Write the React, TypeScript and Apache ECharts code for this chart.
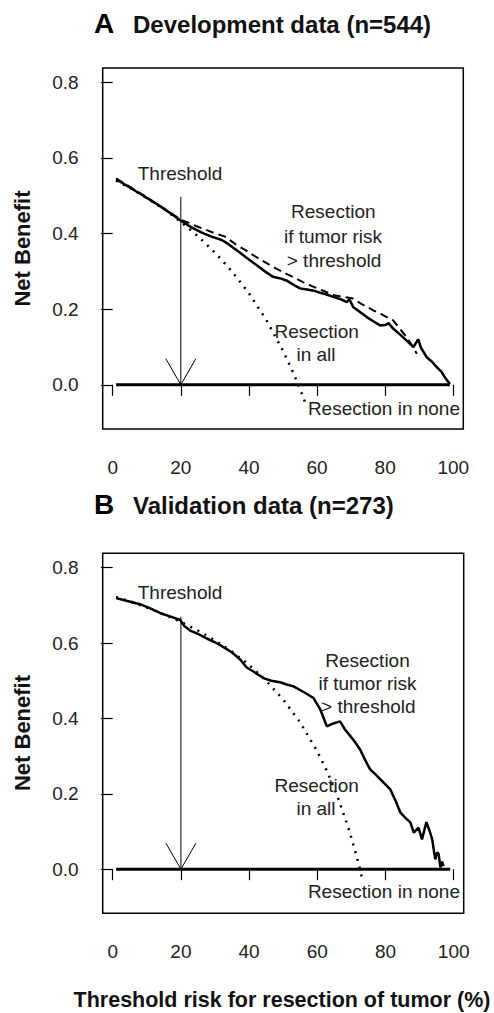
import React, { useEffect, useRef } from "react";
import * as echarts from "echarts";

// ---- tick labels / axes ----
const xTickValues = [0, 20, 40, 60, 80, 100];
const yTickValues = [0, 0.2, 0.4, 0.6, 0.8];
const thresholdValue = 20;

// ---- Panel A: Development data (n=544) ----
const devModelX = [1, 5, 9, 14, 18, 20, 23, 26, 29, 32, 34, 37, 39, 42, 45, 47, 49, 51, 53, 55, 57, 59, 61, 63, 65, 67, 68.7, 69.5, 70.6, 72.5, 74.6, 76.5, 78.5, 80, 81, 82.4, 84.5, 86.3, 88.3, 89.7, 90.5, 92.2, 93.5, 95.1, 96.5, 97.5, 99];
const devModelY = [0.544, 0.522, 0.5, 0.472, 0.447, 0.434, 0.417, 0.403, 0.392, 0.383, 0.372, 0.352, 0.338, 0.318, 0.298, 0.286, 0.282, 0.276, 0.265, 0.255, 0.252, 0.249, 0.243, 0.238, 0.232, 0.226, 0.219, 0.226, 0.206, 0.193, 0.179, 0.168, 0.157, 0.158, 0.163, 0.148, 0.132, 0.117, 0.1, 0.12, 0.098, 0.073, 0.063, 0.047, 0.035, 0.02, 0.002];

const devApparentX = [1, 10, 20, 25, 30, 33, 36, 39, 43, 47, 50, 53, 56, 59, 62, 65, 68, 70.6, 73, 76.5, 79, 82.4, 84, 86.3, 88, 89.3];
const devApparentY = [0.546, 0.496, 0.437, 0.418, 0.401, 0.392, 0.372, 0.356, 0.333, 0.312, 0.298, 0.285, 0.271, 0.259, 0.248, 0.237, 0.232, 0.228, 0.214, 0.197, 0.186, 0.17, 0.152, 0.126, 0.102, 0.082];

const devAllX = [1, 5, 10, 15, 20, 25, 30, 35, 40, 45, 50, 53, 55, 57];
const devAllY = [0.54, 0.521, 0.494, 0.465, 0.431, 0.393, 0.35, 0.3, 0.242, 0.173, 0.09, 0.032, -0.011, -0.058];

const devNoneX = [1, 99];
const devNoneY = [0, 0];
const devArrowTop = 0.497;

// ---- Panel B: Validation data (n=273) ----
const valModelX = [1, 4, 8, 11, 14, 17, 19.8, 21, 22.7, 25, 27.6, 30, 32.5, 35, 37.4, 39.3, 41.5, 44.2, 46.5, 49.1, 51, 53, 56, 58.9, 60.9, 62.8, 64.5, 66.7, 68, 69.7, 71, 72.6, 74, 75.5, 77, 78.5, 80, 81.4, 83, 84.4, 86, 87.3, 88.3, 89.7, 90.7, 92, 93, 93.7, 94.6, 95.2, 95.6, 96.1, 96.6, 97];
const valModelY = [0.719, 0.712, 0.703, 0.692, 0.679, 0.67, 0.661, 0.645, 0.633, 0.624, 0.612, 0.602, 0.589, 0.575, 0.556, 0.535, 0.523, 0.507, 0.5, 0.496, 0.49, 0.485, 0.47, 0.454, 0.423, 0.379, 0.386, 0.392, 0.372, 0.353, 0.338, 0.317, 0.29, 0.265, 0.252, 0.238, 0.225, 0.212, 0.18, 0.15, 0.135, 0.124, 0.097, 0.11, 0.079, 0.125, 0.1, 0.079, 0.026, 0.045, 0.04, 0.005, 0.02, 0.008];

const valAllX = [1, 5, 10, 15, 20, 25, 30, 35, 40, 45, 50, 55, 60, 63, 66, 69, 71, 72.5, 73];
const valAllY = [0.722, 0.711, 0.694, 0.676, 0.656, 0.633, 0.607, 0.577, 0.542, 0.5, 0.45, 0.389, 0.3125, 0.257, 0.191, 0.113, 0.052, 0.0, -0.019];

const valNoneX = [1, 99];
const valNoneY = [0, 0];
const valArrowTop = 0.67;

const zip = (xs: number[], ys: number[]) => xs.map((x, i) => [x, ys[i]]);

const FONT = "'Liberation Sans', Arial, sans-serif";

export default function App() {
  const ref = useRef<HTMLDivElement>(null);
  useEffect(() => {
    if (!ref.current) return;
    const chart = echarts.init(ref.current, null, { renderer: "svg" });

    const mkX = (gridIndex: number) => ({
      type: "value",
      gridIndex,
      min: -2.94,
      max: 102.94,
      splitLine: { show: false },
      axisLine: { show: false },
      axisTick: {
        show: true,
        length: 11,
        customValues: xTickValues,
        lineStyle: { color: "#000", width: 1.2 },
      },
      axisLabel: {
        customValues: xTickValues,
        margin: 29,
        fontSize: 19,
        fontFamily: FONT,
        color: "#222",
        formatter: (v: number) => String(v),
      },
    });
    const mkY = (gridIndex: number) => ({
      type: "value",
      gridIndex,
      min: -0.117,
      max: 0.838,
      splitLine: { show: false },
      axisLine: { show: false },
      axisTick: {
        show: true,
        length: 12,
        customValues: yTickValues,
        lineStyle: { color: "#000", width: 1.2 },
      },
      axisLabel: {
        customValues: yTickValues,
        margin: 24,
        fontSize: 19,
        fontFamily: FONT,
        color: "#222",
        formatter: (v: number) => v.toFixed(1),
      },
    });

    const line = (
      name: string,
      idx: number,
      data: number[][],
      width: number,
      type: any = "solid"
    ) => ({
      name,
      type: "line",
      xAxisIndex: idx,
      yAxisIndex: idx,
      data,
      showSymbol: false,
      symbol: "none",
      silent: true,
      lineStyle: { color: "#000", width, type, cap: "butt" },
      z: 3,
    });

    const arrowHalfW = 4.4;
    const arrowH = 0.069;
    const arrow = (idx: number, top: number) => [
      line("arrowStem" + idx, idx, [[thresholdValue, top], [thresholdValue, 0]], 1),
      line(
        "arrowHead" + idx,
        idx,
        [
          [thresholdValue - arrowHalfW, arrowH],
          [thresholdValue, 0],
          [thresholdValue + arrowHalfW, arrowH],
        ],
        1
      ),
    ];

    const txt = (text: string, x: number, y: number, opts: any = {}) => ({
      type: "text",
      x,
      y,
      rotation: opts.rotation || 0,
      style: {
        text,
        fill: opts.fill || "#222",
        font: `${opts.bold ? "bold " : ""}${opts.size || 19}px ${FONT}`,
        textAlign: opts.align || "center",
        textVerticalAlign: "middle",
      },
      z: 10,
    });

    chart.setOption({
      animation: false,
      backgroundColor: "#fff",
      grid: [
        { left: 102.7, top: 68, width: 360.6, height: 361, show: true, borderColor: "#000", borderWidth: 1.5, backgroundColor: "transparent" },
        { left: 102.7, top: 553.3, width: 361, height: 360, show: true, borderColor: "#000", borderWidth: 1.5, backgroundColor: "transparent" },
      ],
      xAxis: [mkX(0), mkX(1)],
      yAxis: [mkY(0), mkY(1)],
      series: [
        line("Resection in none A", 0, zip(devNoneX, devNoneY), 3),
        line("Resection in all A", 0, zip(devAllX, devAllY), 2.5, [2, 6]),
        line("Apparent A", 0, zip(devApparentX, devApparentY), 2, [8, 5]),
        line("Model A", 0, zip(devModelX, devModelY), 2.5),
        ...arrow(0, devArrowTop),
        line("Resection in none B", 1, zip(valNoneX, valNoneY), 3),
        line("Resection in all B", 1, zip(valAllX, valAllY), 2.5, [2, 6]),
        line("Model B", 1, zip(valModelX, valModelY), 2.5),
        ...arrow(1, valArrowTop),
      ],
      graphic: [
        txt("A", 94, 23, { bold: true, size: 28, align: "left", fill: "#000" }),
        txt("Development data (n=544)", 133, 24, { bold: true, size: 24, align: "left", fill: "#111" }),
        txt("Threshold", 180, 173.3),
        txt("Resection", 333.3, 211.7),
        txt("if tumor risk", 333, 236.7),
        txt("> threshold", 334, 260.7),
        txt("Resection", 316.7, 331.7),
        txt("in all", 316, 354),
        txt("Resection in none", 460, 408.3, { align: "right" }),
        txt("Net Benefit", 22, 248.5, { bold: true, size: 22, rotation: Math.PI / 2, fill: "#111" }),

        txt("B", 94, 504, { bold: true, size: 28, align: "left", fill: "#000" }),
        txt("Validation data (n=273)", 133, 505, { bold: true, size: 24, align: "left", fill: "#111" }),
        txt("Threshold", 180, 592.3),
        txt("Resection", 367.5, 660),
        txt("if tumor risk", 367.5, 683.3),
        txt("> threshold", 368.3, 706.7),
        txt("Resection", 316.7, 785),
        txt("in all", 316, 808.3),
        txt("Resection in none", 460, 891.7, { align: "right" }),
        txt("Net Benefit", 22, 733, { bold: true, size: 22, rotation: Math.PI / 2, fill: "#111" }),

        txt("Threshold risk for resection of tumor (%)", 282, 1000, { bold: true, size: 21.5, fill: "#111" }),
      ],
    });

    return () => chart.dispose();
  }, []);

  return (
    <div
      ref={ref}
      style={{ position: "absolute", left: 0, top: 0, width: 494, height: 1013 }}
    />
  );
}
